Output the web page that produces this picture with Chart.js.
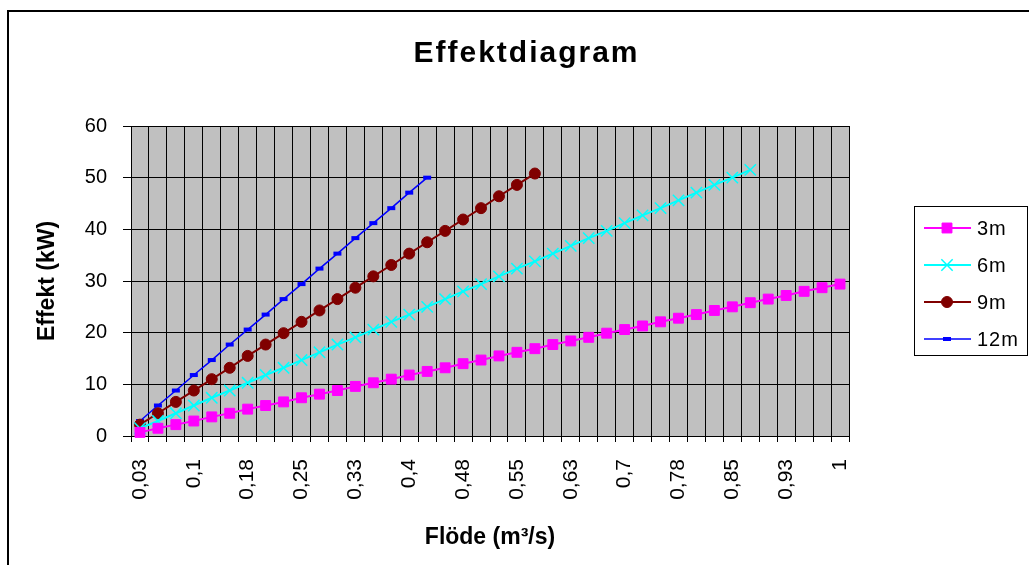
<!DOCTYPE html>
<html>
<head>
<meta charset="utf-8">
<title>Effektdiagram</title>
<script src="https://cdn.jsdelivr.net/npm/chart.js@4.4.0/dist/chart.umd.min.js"></script>
<style>
  html, body { margin: 0; padding: 0; background: #fff; }
  #wrap { width: 1029px; height: 565px; }
</style>
</head>
<body>
<div id="wrap"><canvas id="effektChart" width="1029" height="565"></canvas></div>
<script>
// Flöde (m3/s), en kategori per 0,025 - etiketterna som Excel avrundar dem
const floden = ['0,03', '0,05', '0,08', '0,1', '0,13', '0,15', '0,18', '0,2', '0,23', '0,25',
  '0,28', '0,3', '0,33', '0,35', '0,38', '0,4', '0,43', '0,45', '0,48', '0,5',
  '0,53', '0,55', '0,58', '0,6', '0,63', '0,65', '0,68', '0,7', '0,73', '0,75',
  '0,78', '0,8', '0,83', '0,85', '0,88', '0,9', '0,93', '0,95', '0,98', '1'];

// Effekt (kW) per fallhöjd
const effekt3m = [0.7, 1.5, 2.2, 2.9, 3.7, 4.4, 5.2, 5.9, 6.6, 7.4,
  8.1, 8.8, 9.6, 10.3, 11.0, 11.8, 12.5, 13.2, 14.0, 14.7,
  15.5, 16.2, 16.9, 17.7, 18.4, 19.1, 19.9, 20.6, 21.3, 22.1,
  22.8, 23.5, 24.3, 25.0, 25.8, 26.5, 27.2, 28.0, 28.7, 29.4];
const effekt6m = [1.5, 2.9, 4.4, 5.9, 7.4, 8.8, 10.3, 11.8, 13.2, 14.7,
  16.2, 17.7, 19.1, 20.6, 22.1, 23.5, 25.0, 26.5, 28.0, 29.4,
  30.9, 32.4, 33.8, 35.3, 36.8, 38.3, 39.7, 41.2, 42.7, 44.1,
  45.6, 47.1, 48.6, 50.0, 51.5];
const effekt9m = [2.2, 4.4, 6.6, 8.8, 11.0, 13.2, 15.5, 17.7, 19.9, 22.1,
  24.3, 26.5, 28.7, 30.9, 33.1, 35.3, 37.5, 39.7, 41.9, 44.1,
  46.4, 48.6, 50.8];
const effekt12m = [2.9, 5.9, 8.8, 11.8, 14.7, 17.7, 20.6, 23.5, 26.5, 29.4,
  32.4, 35.3, 38.3, 41.2, 44.1, 47.1, 50.0];

const yTicks = [0, 10, 20, 30, 40, 50, 60];

const FONT = 'Arial, "Liberation Sans", sans-serif';

// bakgrund, ram runt diagrammet och grå rityta
const bakgrund = {
  id: "bakgrund",
  beforeDraw(chart) {
    const ctx = chart.ctx;
    const a = chart.chartArea;
    ctx.save();
    ctx.fillStyle = "#fff";
    ctx.fillRect(0, 0, chart.width, chart.height);
    ctx.strokeStyle = "#000";
    ctx.lineWidth = 2;
    ctx.beginPath();
    ctx.moveTo(8, chart.height);
    ctx.lineTo(8, 11);
    ctx.lineTo(chart.width, 11);
    ctx.stroke();
    ctx.fillStyle = "#c0c0c0";
    ctx.fillRect(a.left, a.top, a.right - a.left, a.bottom - a.top);
    ctx.restore();
  },
  afterLayout(chart) {
    // titeln ligger mitt över hela bilden, inte bara över ritytan
    const tb = chart.titleBlock;
    if (tb && !tb._flyttad) {
      const orig = tb.draw.bind(tb);
      tb.draw = function () {
        const c = chart.ctx;
        c.save();
        c.translate(102, 2);
        c.letterSpacing = "2px";
        orig();
        c.restore();
      };
      tb._flyttad = true;
    }
  },
};

// teckenförklaring i Excel-stil: linje + markör i en ruta
const forklaring = {
  id: "forklaring",
  afterDraw(chart) {
    const ctx = chart.ctx;
    ctx.save();
    ctx.strokeStyle = "#000";
    ctx.lineWidth = 1;
    ctx.strokeRect(914.5, 206.5, 113, 149);
    chart.data.datasets.forEach(function (ds, i) {
      const y = 228 + i * 37;
      ctx.strokeStyle = ds.borderColor;
      ctx.lineWidth = ds.borderWidth;
      ctx.beginPath();
      ctx.moveTo(924, y);
      ctx.lineTo(971, y);
      ctx.stroke();
      ctx.fillStyle = ds.pointBackgroundColor;
      ctx.strokeStyle = ds.pointBorderColor;
      ctx.lineWidth = ds.pointBorderWidth;
      Chart.helpers.drawPoint(ctx, {
        pointStyle: ds.pointStyle,
        radius: ds.pointRadius,
        borderWidth: ds.pointBorderWidth,
        rotation: 0,
      }, 947, y);
      ctx.fillStyle = "#000";
      ctx.font = "20px " + FONT;
      ctx.letterSpacing = "1px";
      ctx.textAlign = "left";
      ctx.textBaseline = "middle";
      ctx.fillText(ds.label, 977, y + 1);
      ctx.letterSpacing = "0px";
    });
    ctx.restore();
  },
};

const ctx = document.getElementById("effektChart").getContext("2d");
new Chart(ctx, {
  type: "line",
  data: {
    labels: floden,
    datasets: [
      {
        label: "3m",
        data: effekt3m,
        borderColor: "#ff00ff",
        backgroundColor: "#ff00ff",
        pointBackgroundColor: "#ff00ff",
        pointBorderColor: "#ff00ff",
        borderWidth: 2,
        pointStyle: "rect",
        pointRadius: 7,
        pointBorderWidth: 1,
      },
      {
        label: "6m",
        data: effekt6m,
        borderColor: "#00ffff",
        backgroundColor: "#00ffff",
        pointBackgroundColor: "#00ffff",
        pointBorderColor: "#00ffff",
        borderWidth: 2,
        pointStyle: "crossRot",
        pointRadius: 8,
        pointBorderWidth: 1.5,
      },
      {
        label: "9m",
        data: effekt9m,
        borderColor: "#800000",
        backgroundColor: "#800000",
        pointBackgroundColor: "#800000",
        pointBorderColor: "#800000",
        borderWidth: 2,
        pointStyle: "circle",
        pointRadius: 5.5,
        pointBorderWidth: 1,
      },
      {
        label: "12m",
        data: effekt12m,
        borderColor: "#0000ff",
        backgroundColor: "#0000ff",
        pointBackgroundColor: "#0000ff",
        pointBorderColor: "#0000ff",
        borderWidth: 1.5,
        pointStyle: "line",
        pointRadius: 4,
        pointBorderWidth: 4,
      },
    ],
  },
  options: {
    responsive: false,
    animation: false,
    clip: false,
    elements: { line: { tension: 0 } },
    layout: { padding: { left: 0, right: 180, top: 0, bottom: 0 } },
    plugins: {
      legend: { display: false },
      tooltip: { enabled: false },
      title: {
        display: true,
        text: "Effektdiagram",
        color: "#000",
        font: { family: FONT, size: 30, weight: "bold" },
        padding: { top: 34, bottom: 56 },
      },
    },
    scales: {
      x: {
        offset: true,
        grid: { offset: true, color: "#000", lineWidth: 1, tickLength: 6, tickColor: "#000" },
        border: { color: "#000" },
        ticks: {
          autoSkip: false,
          maxRotation: 90,
          minRotation: 90,
          padding: 17,
          color: "#000",
          font: { family: FONT, size: 21 },
          callback: function (value, index) {
            return index % 3 === 0 ? this.getLabelForValue(value) : "";
          },
        },
        title: {
          display: true,
          text: "Flöde (m³/s)",
          color: "#000",
          font: { family: FONT, size: 23, weight: "bold" },
          padding: { top: 0, bottom: 14 },
        },
        afterFit: function (scale) {
          scale.height = 129;
        },
      },
      y: {
        min: yTicks[0],
        max: yTicks[yTicks.length - 1],
        grid: { color: "#000", lineWidth: 1, tickLength: 8, tickColor: "#000" },
        border: { color: "#000" },
        afterBuildTicks: function (scale) {
          scale.ticks = yTicks.map(function (v) { return { value: v }; });
        },
        ticks: {
          padding: 16,
          color: "#000",
          font: { family: FONT, size: 20 },
        },
        title: {
          display: true,
          text: "Effekt (kW)",
          color: "#000",
          font: { family: FONT, size: 23, weight: "bold" },
          padding: { top: 34, bottom: 0 },
        },
        afterFit: function (scale) {
          scale.width = 131;
        },
      },
    },
  },
  plugins: [bakgrund, forklaring],
});
</script>
</body>
</html>
